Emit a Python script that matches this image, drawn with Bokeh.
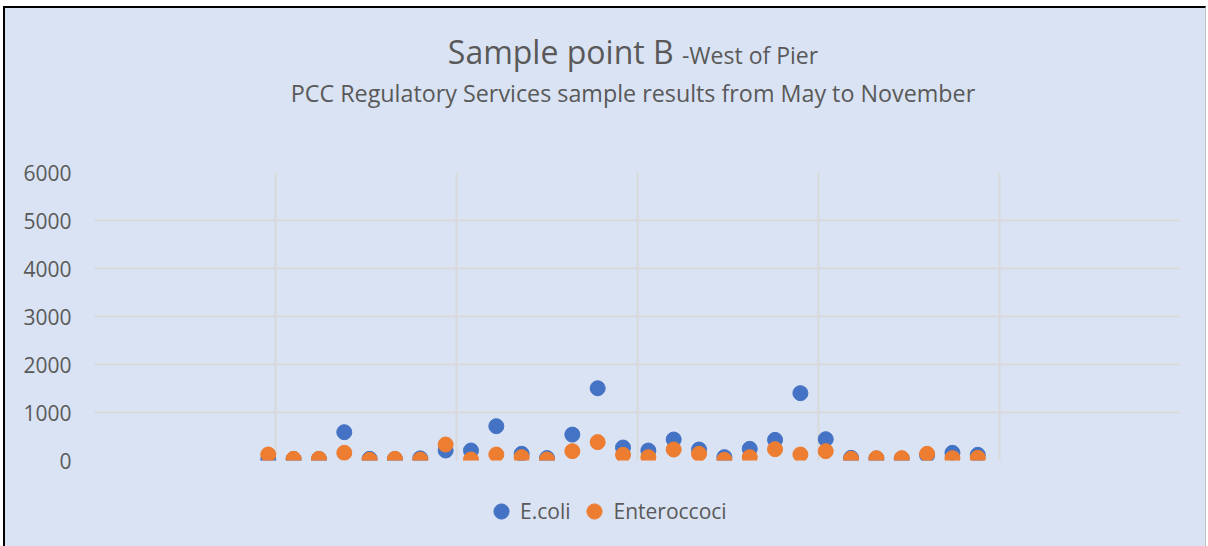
from bokeh.plotting import figure
from bokeh.layouts import column
from bokeh.models import (ColumnDataSource, FixedTicker, Legend, LegendItem,
                          NumeralTickFormatter, Div)
from bokeh.embed import file_html
from bokeh.resources import INLINE

# ---- data ----
sample_day = [48, 55, 62, 69, 76, 83, 90, 97, 104, 111, 118, 125, 132, 139, 146,
              153, 160, 167, 174, 181, 188, 195, 202, 209, 216, 223, 230, 237, 244]
ecoli = [20, 30, 30, 590, 35, 30, 45, 208, 208, 715, 140, 50, 540, 1505, 270,
         208, 437, 229, 70, 243, 430, 1403, 444, 55, 40, 40, 110, 160, 118]
enterococci = [125, 35, 35, 160, 15, 35, 20, 333, 20, 125, 70, 20, 195, 383, 118,
               70, 229, 139, 15, 70, 236, 125, 195, 35, 49, 49, 139, 49, 55]
y_ticks = [0, 1000, 2000, 3000, 4000, 5000, 6000]
x_grid = [0, 50, 100, 150, 200, 250, 300]
series_names = ["E.coli", "Enteroccoci"]
series_colors = ["#4472C4", "#ED7D31"]
title_main = "Sample point B"
title_suffix = "-West of Pier"
subtitle = "PCC Regulatory Services sample results from May to November"

BG = "#DAE3F3"
TXT = "#595959"
GRID = "#D9D9D9"
FONT = "Open Sans"

src = ColumnDataSource(dict(x=sample_day, ecoli=ecoli, ent=enterococci))

# ---- title block (mixed font sizes on one line) ----
title_html = f"""
<div style="position:relative;width:1200px;height:110px;font-family:'{FONT}';color:{TXT};">
  <div style="position:absolute;left:628px;top:24px;transform:translateX(-50%);
              white-space:nowrap;font-size:32px;line-height:40px;">{title_main}
    <span style="font-size:23px;">{title_suffix}</span></div>
  <div style="position:absolute;left:628px;top:70px;transform:translateX(-50%);
              white-space:nowrap;font-size:23.3px;line-height:30px;">{subtitle}</div>
</div>
"""
div = Div(text=title_html, width=1200, height=110, margin=0)

# ---- main plot ----
p = figure(width=1200, height=362, output_backend="svg", toolbar_location=None,
           x_range=(x_grid[0], x_grid[-1]), y_range=(y_ticks[0], y_ticks[-1]),
           min_border_left=89, min_border_right=25, min_border_top=54,
           min_border_bottom=20, margin=0)
p.background_fill_color = BG
p.border_fill_color = BG
p.outline_line_color = None

p.xaxis.visible = False
p.xgrid.ticker = FixedTicker(ticks=x_grid)
p.xgrid.grid_line_color = GRID
p.xgrid.grid_line_width = 2
p.yaxis.ticker = FixedTicker(ticks=y_ticks)
p.yaxis.formatter = NumeralTickFormatter(format="0")
p.yaxis.axis_line_color = None
p.yaxis.major_tick_line_color = None
p.yaxis.minor_tick_line_color = None
p.yaxis.major_tick_out = 0
p.yaxis.major_label_standoff = 23
p.yaxis.major_label_text_font = FONT
p.yaxis.major_label_text_font_size = "21px"
p.yaxis.major_label_text_color = TXT
p.ygrid.grid_line_color = GRID
p.ygrid.grid_line_width = 2

p.scatter("x", "ecoli", source=src, size=15, color=series_colors[0])
p.scatter("x", "ent", source=src, size=15, color=series_colors[1])

# ---- legend strip (separate panel below the plot) ----
# legend proxies: the first sample of each series, kept outside the strip's visible range
lg = figure(width=1200, height=66, output_backend="svg", toolbar_location=None,
            x_range=(0, 1), y_range=(0, 1), x_axis_location=None,
            y_axis_location=None, min_border=0, margin=0)
lg.background_fill_color = BG
lg.border_fill_color = BG
lg.outline_line_color = None
lg.xgrid.visible = False
lg.ygrid.visible = False
k1 = lg.scatter(x=[sample_day[0]], y=[ecoli[0]], size=15, color=series_colors[0])
k2 = lg.scatter(x=[sample_day[0]], y=[enterococci[0]], size=15, color=series_colors[1])
legend = Legend(items=[LegendItem(label=series_names[0], renderers=[k1]),
                       LegendItem(label=series_names[1], renderers=[k2])],
                orientation="horizontal", location=(388, 16),
                glyph_width=38, glyph_height=38, label_standoff=-7, spacing=5,
                padding=0, margin=0, border_line_color=None,
                background_fill_alpha=0, label_text_font=FONT,
                label_text_font_size="21px", label_text_color=TXT)
lg.add_layout(legend, "center")

layout = column(div, p, lg, spacing=0, margin=0,
                styles={"background-color": BG,
                        "border-left": "2px solid black",
                        "border-top": "2px solid black",
                        "border-right": "1px solid #BFBFBF",
                        "margin-left": "3px", "margin-top": "6px"})

open("out.html", "w").write(file_html(layout, INLINE))
